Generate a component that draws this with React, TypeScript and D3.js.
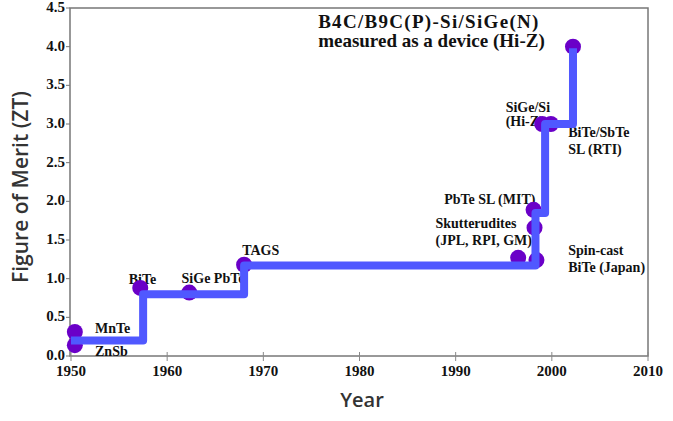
import { useRef, useEffect } from 'react';
import * as d3 from 'd3';

const W = 673;
const H = 421;

// step record line (year, ZT)
const stepYears = [1950, 1957.5, 1957.5, 1968, 1968, 1998.3, 1998.3, 1999.3, 1999.3, 2002.2, 2002.2];
const stepZT = [0.2, 0.2, 0.8, 0.8, 1.17, 1.17, 1.85, 1.85, 3.0, 3.0, 3.98];

// measured materials
const dotYears = [1950.4, 1950.4, 1957.2, 1962.3, 1968, 1996.5, 1998.1, 1998.2, 1998.4, 1999, 1999.9, 2002.2];
const dotZT = [0.31, 0.14, 0.88, 0.82, 1.18, 1.27, 1.89, 1.66, 1.24, 3.0, 3.0, 4.0];

const yTicks = [0, 0.5, 1, 1.5, 2, 2.5, 3, 3.5, 4, 4.5];
const xTicks = [1950, 1960, 1970, 1980, 1990, 2000, 2010];

// annotations: text lines, anchor year, anchor ZT (first baseline)
const labels: { lines: string[]; year: number; zt: number }[] = [
  { lines: ['MnTe'], year: 1952.5, zt: 0.3 },
  { lines: ['ZnSb'], year: 1952.5, zt: 0.0 },
  { lines: ['BiTe'], year: 1956, zt: 0.93 },
  { lines: ['SiGe PbTe'], year: 1961.5, zt: 0.94 },
  { lines: ['TAGS'], year: 1967.8, zt: 1.3 },
  { lines: ['B4C/B9C(P)-Si/SiGe(N)', 'measured as a device (Hi-Z)'], year: 1975.7, zt: 4.24 },
  { lines: ['SiGe/Si', '(Hi-Z)'], year: 1995.2, zt: 3.15 },
  { lines: ['BiTe/SbTe', 'SL (RTI)'], year: 2001.7, zt: 2.83 },
  { lines: ['PbTe SL (MIT)'], year: 1988.8, zt: 1.96 },
  { lines: ['Skutterudites', '(JPL, RPI, GM)'], year: 1987.9, zt: 1.66 },
  { lines: ['Spin-cast', 'BiTe (Japan)'], year: 2001.7, zt: 1.3 },
];

export default function App() {
  const ref = useRef<SVGSVGElement>(null);

  useEffect(() => {
    const svg = d3.select(ref.current);
    svg.selectAll('*').remove();

    const x = d3.scaleLinear().domain([1950, 2010]).range([71, 648]);
    const y = d3.scaleLinear().domain([0, 4.5]).range([356, 8]);

    svg.append('rect').attr('width', W).attr('height', H).attr('fill', '#fff');

    // frame
    svg
      .append('rect')
      .attr('x', x(1950) - 1)
      .attr('y', y(4.5))
      .attr('width', x(2010) - x(1950) + 1)
      .attr('height', y(0) - y(4.5))
      .attr('fill', 'none')
      .attr('stroke', '#777')
      .attr('stroke-width', 1.5);

    const serif = '"Liberation Serif", "Times New Roman", serif';

    yTicks.forEach((t) => {
      svg
        .append('line')
        .attr('x1', x(1950) - 5)
        .attr('x2', x(1950) - 1)
        .attr('y1', y(t))
        .attr('y2', y(t))
        .attr('stroke', '#777');
      svg
        .append('text')
        .attr('x', x(1950) - 6)
        .attr('y', y(t) + 4)
        .attr('text-anchor', 'end')
        .attr('font-family', serif)
        .attr('font-weight', 700)
        .attr('font-size', 15)
        .attr('fill', '#111')
        .text(t.toFixed(1));
    });

    xTicks.forEach((t) => {
      svg
        .append('line')
        .attr('x1', x(t))
        .attr('x2', x(t))
        .attr('y1', y(0) - 4)
        .attr('y2', y(0) + 5)
        .attr('stroke', '#888');
      svg
        .append('text')
        .attr('x', x(t))
        .attr('y', y(0) + 20)
        .attr('text-anchor', 'middle')
        .attr('font-family', serif)
        .attr('font-weight', 700)
        .attr('font-size', 15)
        .attr('fill', '#111')
        .text(String(t));
    });

    // axis titles
    svg
      .append('text')
      .attr('x', 362)
      .attr('y', 407)
      .attr('text-anchor', 'middle')
      .attr('font-family', '"Open Sans", sans-serif')
      .attr('font-size', 20)
      .attr('font-weight', 600)
      .attr('fill', '#333')
      .text('Year');

    svg
      .append('text')
      .attr('transform', 'rotate(-90)')
      .attr('x', -187)
      .attr('y', 28)
      .attr('text-anchor', 'middle')
      .attr('font-family', '"Open Sans", sans-serif')
      .attr('font-size', 21)
      .attr('font-weight', 600)
      .attr('fill', '#333')
      .text('Figure of Merit (ZT)');

    // annotations (the Hi-Z headline is set larger)
    labels.forEach((l, li) => {
      const big = li === 5;
      const fs = big ? 19 : 14;
      const gap = big ? 19 : li === 6 ? 14 : 17;
      const t = svg
        .append('text')
        .attr('font-family', serif)
        .attr('font-weight', 700)
        .attr('font-size', fs)
        .attr('fill', '#111');
      l.lines.forEach((s, i) => {
        t.append('tspan')
          .attr('x', x(l.year))
          .attr('y', y(l.zt) + i * gap)
          .attr('letter-spacing', big && i === 0 ? 1.3 : 0)
          .text(s);
      });
    });

    // step line
    const pts = stepYears.map((yr, i) => [x(yr), y(stepZT[i])] as [number, number]);

    // dots
    dotYears.forEach((yr, i) => {
      svg
        .append('circle')
        .attr('cx', x(yr))
        .attr('cy', y(dotZT[i]))
        .attr('r', 8)
        .attr('fill', '#6a00c8');
    });

    svg
      .append('path')
      .attr('d', d3.line()(pts))
      .attr('fill', 'none')
      .attr('stroke', '#5058ff')
      .attr('stroke-width', 8)
      .attr('stroke-linejoin', 'round');
  }, []);

  return (
    <svg
      ref={ref}
      width={W}
      height={H}
      style={{ display: 'block', position: 'absolute', left: 0, top: 0 }}
    />
  );
}
